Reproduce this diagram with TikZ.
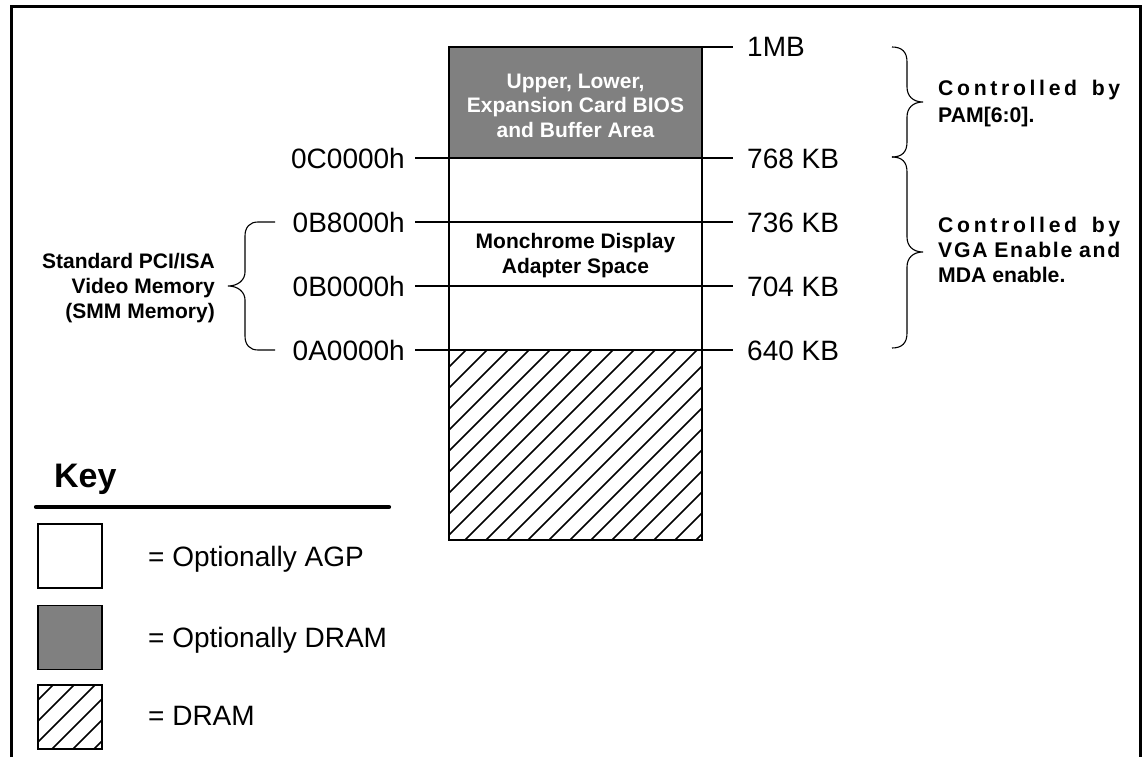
\documentclass[tikz,border=0pt]{standalone}
\usepackage{fontspec}
\setmainfont{Liberation Sans}
\definecolor{blockgray}{HTML}{808080}
\begin{document}
\begin{tikzpicture}[x=1pt,y=-1pt,
  frame/.style={line width=2.6pt},
  colline/.style={line width=1.3pt},
  tickline/.style={line width=2.5pt},
  bracepath/.style={line width=1.1pt},
  hatchline/.style={line width=1.6pt},
  addr/.style={inner sep=0pt, font=\fontsize{28}{32}\selectfont},
  boldlbl/.style={inner sep=0pt, anchor=base, font=\bfseries\fontsize{21}{24}\selectfont},
  sidelbl/.style={inner sep=0pt, anchor=base east, font=\bfseries\fontsize{21}{24}\selectfont},
  ctl/.style={inner sep=0pt, anchor=base west, font=\bfseries\fontsize{21.2}{24}\selectfont},
  keybox/.style={draw, line width=1.2pt, minimum width=64pt, minimum height=64pt, inner sep=0pt},
]
\useasboundingbox (0,0) rectangle (1142,757);
\fill[white] (0,0) rectangle (1142,757);

% outer frame (open at the bottom)
\draw[frame] (11.5,757) -- (11.5,6.5) -- (1140.5,6.5) -- (1140.5,757);

% level coordinates
\foreach \n/\y in {a/47,b/158,c/222,d/286,e/350}{
  \coordinate (cL\n) at (449,\y);
  \coordinate (cR\n) at (702,\y);
  \coordinate (tL\n) at (415,\y);
  \coordinate (tR\n) at (733,\y);
}
\coordinate (colBL) at (449,540);
\coordinate (colBR) at (702,540);

% gray block
\fill[blockgray] (cLa) rectangle (cRb);

% hatched DRAM region
\begin{scope}
  \clip (cLe) rectangle (colBR);
  \foreach \k in {-1,...,20}{
    \draw[hatchline] ({466+21*\k-250},600) -- ++(300,-300);
  }
\end{scope}

% column outline and dividers
\draw[colline] (cLa) rectangle (colBR);
\draw[line width=1.8pt] (cLb) -- (cRb);
\draw[colline] (cLc) -- (cRc);
\draw[colline] (cLd) -- (cRd);
\draw[colline] (cLe) -- (cRe);

% ticks
\draw[tickline] (cRa) -- (tRa);
\foreach \n in {b,c,d,e}{
  \draw[tickline] (tL\n) -- (cL\n);
  \draw[tickline] (cR\n) -- (tR\n);
}

% address labels (left)
\node[addr, anchor=base east] (hexC0) at (405,168) {0C0000h};
\node[addr, anchor=base east] (hexB8) at (405,232) {0B8000h};
\node[addr, anchor=base east] (hexB0) at (405,296) {0B0000h};
\node[addr, anchor=base east] (hexA0) at (405,360) {0A0000h};

% size labels (right)
\node[addr, anchor=base west] (kb1M) at (747,57) {1MB};
\node[addr, anchor=base west] (kb768) at (747,168) {768 KB};
\node[addr, anchor=base west] (kb736) at (747,232) {736 KB};
\node[addr, anchor=base west] (kb704) at (747,296) {704 KB};
\node[addr, anchor=base west] (kb640) at (747,360) {640 KB};

% text in the gray block
\node[boldlbl, text=white] (bios1) at (575.5,89) {Upper, Lower,};
\node[boldlbl, text=white] (bios2) at (575.5,113) {Expansion Card BIOS};
\node[boldlbl, text=white] (bios3) at (575.5,137) {and Buffer Area};

% MDA text
\node[boldlbl] (mda1) at (575.5,248) {Monchrome Display};
\node[boldlbl] (mda2) at (575.5,273) {Adapter Space};

% left brace and label
\draw[bracepath] (275,222) -- (258,222) .. controls (250,222) and (245,227) .. (245,236)
  -- (245,272) .. controls (245,280) and (238,286) .. (228,286)
  .. controls (238,286) and (245,292) .. (245,300)
  -- (245,336) .. controls (245,345) and (250,350) .. (258,350) -- (275,350);
\node[sidelbl] (vid1) at (215,268) {Standard PCI/ISA};
\node[sidelbl] (vid2) at (215,293) {Video Memory};
\node[sidelbl] (vid3) at (215,318) {(SMM Memory)};

% right braces
\draw[bracepath] (892,47) .. controls (902,47) and (907,52) .. (907,62)
  -- (907,87) .. controls (907,96) and (913,102) .. (923,102)
  .. controls (913,102) and (907,108) .. (907,117)
  -- (907,142) .. controls (907,152) and (902,157) .. (892,157);
\draw[bracepath] (892,157) .. controls (902,157) and (907,162) .. (907,172)
  -- (907,237) .. controls (907,246) and (913,252) .. (923,252)
  .. controls (913,252) and (907,258) .. (907,267)
  -- (907,333) .. controls (907,343) and (902,348) .. (892,348);

% right texts
\node[ctl] (ctlA1) at (938,96) {\makebox[182pt][s]{C\hfil o\hfil n\hfil t\hfil r\hfil o\hfil l\hfil l\hfil e\hfil d\hskip 11pt\hfil b\hfil y}};
\node[ctl] (ctlA2) at (938,122) {PAM[6:0].};
\node[ctl] (ctlB1) at (938,232) {\makebox[182pt][s]{C\hfil o\hfil n\hfil t\hfil r\hfil o\hfil l\hfil l\hfil e\hfil d\hskip 11pt\hfil b\hfil y}};
\node[ctl] (ctlB2) at (938,257) {\makebox[182pt][s]{V\hfil G\hfil A\hskip 5pt\hfil E\hfil n\hfil a\hfil b\hfil l\hfil e\hskip 5pt\hfil a\hfil n\hfil d}};
\node[ctl] (ctlB3) at (938,282) {MDA enable.};

% key
\node[inner sep=0pt, anchor=base west, font=\bfseries\fontsize{34}{36}\selectfont] (keyttl) at (54,487) {Key};
\coordinate (keyL) at (36,507);
\coordinate (keyR) at (389,507);
\draw[line width=4.2pt, line cap=round] (keyL) -- (keyR);

\node[keybox, fill=white] (kAGP) at (70,556) {};
\node[keybox, fill=blockgray] (kODR) at (70,637.5) {};
\node[keybox] (kDR) at (70,717) {};
\begin{scope}
  \clip (kDR.south west) rectangle (kDR.north east);
  \foreach \k in {-1,...,5}{
    \draw[hatchline] ({53+21*\k-150},835) -- ++(200,-200);
  }
\end{scope}
\draw[line width=1.2pt] (kDR.south west) rectangle (kDR.north east);

\node[addr, anchor=base west] (lblAGP) at (148,566) {= Optionally AGP};
\node[addr, anchor=base west] (lblODR) at (148,647) {= Optionally DRAM};
\node[addr, anchor=base west] (lblDR) at (148,725) {= DRAM};
\end{tikzpicture}
\end{document}
